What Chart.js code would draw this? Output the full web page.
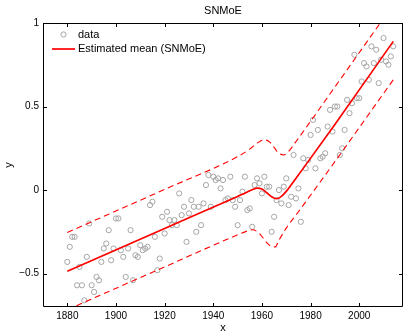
<!DOCTYPE html>
<html>
<head>
<meta charset="utf-8">
<title>SNMoE</title>
<script src="https://cdn.jsdelivr.net/npm/chart.js@4.4.1/dist/chart.umd.min.js"></script>
<style>
    html, body { margin: 0; padding: 0; background: #fff; }
    #wrap { width: 409px; height: 336px; }
</style>
</head>
<body>
<div id="wrap"><canvas id="snmoeChart" width="409" height="336"></canvas></div>
<script>
// Observations (year, value)
const years = [
    1880, 1881, 1882, 1883, 1884, 1885, 1886, 1887, 1888, 1889,
    1890, 1891, 1892, 1893, 1894, 1895, 1896, 1897, 1898, 1899,
    1900, 1901, 1902, 1903, 1904, 1905, 1906, 1907, 1908, 1909,
    1910, 1911, 1912, 1913, 1914, 1915, 1916, 1917, 1918, 1919,
    1920, 1921, 1922, 1923, 1924, 1925, 1926, 1927, 1928, 1929,
    1930, 1931, 1932, 1933, 1934, 1935, 1936, 1937, 1938, 1939,
    1940, 1941, 1942, 1943, 1944, 1945, 1946, 1947, 1948, 1949,
    1950, 1951, 1952, 1953, 1954, 1955, 1956, 1957, 1958, 1959,
    1960, 1961, 1962, 1963, 1964, 1965, 1966, 1967, 1968, 1969,
    1970, 1971, 1972, 1973, 1974, 1975, 1976, 1977, 1978, 1979,
    1980, 1981, 1982, 1983, 1984, 1985, 1986, 1987, 1988, 1989,
    1990, 1991, 1992, 1993, 1994, 1995, 1996, 1997, 1998, 1999,
    2000, 2001, 2002, 2003, 2004, 2005, 2006, 2007, 2008, 2009,
    2010, 2011, 2012, 2013, 2014
];
const observed = [
    -0.43, -0.34, -0.28, -0.28, -0.57, -0.46, -0.57, -0.66, -0.40, -0.20,
    -0.57, -0.61, -0.52, -0.54, -0.43, -0.35, -0.32, -0.24, -0.42, -0.35,
    -0.17, -0.17, -0.36, -0.40, -0.52, -0.35, -0.24, -0.54, -0.39, -0.40,
    -0.33, -0.36, -0.35, -0.34, -0.09, -0.07, -0.28, -0.48, -0.41, -0.16,
    -0.26, -0.13, -0.18, -0.21, -0.18, -0.21, -0.02, -0.15, -0.10, -0.31,
    -0.14, -0.06, -0.10, -0.25, -0.10, -0.21, -0.08, 0.03, 0.09, -0.10,
    0.08, 0.06, 0.07, 0.01, 0.06, -0.06, -0.05, 0.08, -0.06, -0.10,
    -0.21, -0.06, -0.01, 0.08, -0.12, -0.11, -0.22, 0.03, 0.07, 0.04,
    -0.02, 0.08, 0.02, 0.02, -0.25, -0.16, -0.06, 0.00, -0.08, 0.02,
    0.07, -0.09, -0.04, 0.21, -0.05, 0.01, -0.19, 0.19, 0.13, 0.18,
    0.33, 0.42, 0.13, 0.36, 0.19, 0.20, 0.22, 0.38, 0.48, 0.35,
    0.50, 0.50, 0.21, 0.25, 0.36, 0.54, 0.46, 0.52, 0.81, 0.55,
    0.55, 0.65, 0.76, 0.74, 0.66, 0.86, 0.76, 0.84, 0.64, 0.78,
    0.91, 0.77, 0.75, 0.80, 0.86
];

// Estimated mean and the dashed band
const meanYears = [1880, 1920, 1950, 1954, 1956, 1958, 1960, 1962, 1964, 1966, 1968, 1970, 1972, 1975, 1990, 2014];
const meanValues = [-0.486, -0.230, -0.038, -0.012, 0.002, 0.012, 0.006, -0.016, -0.040, -0.052, -0.038, -0.008, 0.030, 0.090, 0.393, 0.890];

const upperYears = [1880, 1920, 1950, 1955, 1958, 1961, 1963, 1965, 1967, 1969, 1971, 1974, 1990, 2014];
const upperValues = [-0.254, 0.004, 0.200, 0.245, 0.280, 0.300, 0.290, 0.255, 0.220, 0.210, 0.232, 0.290, 0.617, 1.110];

const lowerYears = [1880, 1920, 1950, 1954, 1956, 1958, 1960, 1962, 1964, 1965.5, 1967, 1970, 1975, 1990, 2014];
const lowerValues = [-0.716, -0.460, -0.268, -0.245, -0.238, -0.248, -0.278, -0.315, -0.338, -0.340, -0.300, -0.228, -0.130, 0.170, 0.660];

// Axes
const xTicks = [1880, 1900, 1920, 1940, 1960, 1980, 2000];
const yTicks = [-0.5, 0, 0.5, 1];
const yTickLabels = ['\u22120.5', '0', '0.5', '1'];

const RED = 'rgb(255,0,0)';
const GRAY = 'rgb(165,165,165)';
const FONT = '"Liberation Sans", Arial, Helvetica, sans-serif';

function pairs(xs, ys) {
    return xs.map((x, i) => ({ x: x, y: ys[i] }));
}

// Box, inward tick marks, title, axis labels and legend (MATLAB look)
const matlabFrame = {
    id: 'matlabFrame',
    afterDraw(chart) {
        const ctx = chart.ctx;
        const a = chart.chartArea;
        const sx = chart.scales.x;
        const sy = chart.scales.y;
        const tick = 4;

        ctx.save();
        ctx.strokeStyle = '#000';
        ctx.lineWidth = 1;
        ctx.beginPath();
        ctx.rect(a.left + 0.5, a.top + 0.5, a.right - a.left - 1, a.bottom - a.top - 1);
        xTicks.forEach(v => {
            const px = Math.round(sx.getPixelForValue(v)) + 0.5;
            ctx.moveTo(px, a.bottom);
            ctx.lineTo(px, a.bottom - tick);
            ctx.moveTo(px, a.top);
            ctx.lineTo(px, a.top + tick);
        });
        yTicks.forEach(v => {
            const py = Math.round(sy.getPixelForValue(v)) + 0.5;
            ctx.moveTo(a.left, py);
            ctx.lineTo(a.left + tick, py);
            ctx.moveTo(a.right, py);
            ctx.lineTo(a.right - tick, py);
        });
        ctx.stroke();

        // title and axis labels
        ctx.fillStyle = '#000';
        ctx.font = '11px ' + FONT;
        ctx.textAlign = 'center';
        ctx.textBaseline = 'middle';
        ctx.fillText('SNMoE', (a.left + a.right) / 2, 11);
        ctx.fillText('x', (a.left + a.right) / 2, 328);
        ctx.save();
        ctx.translate(9, (a.top + a.bottom) / 2);
        ctx.rotate(-Math.PI / 2);
        ctx.fillText('y', 0, 0);
        ctx.restore();

        // legend
        ctx.textAlign = 'left';
        ctx.strokeStyle = GRAY;
        ctx.beginPath();
        ctx.arc(63.5, 34.5, 2.6, 0, Math.PI * 2);
        ctx.stroke();
        ctx.fillText('data', 78, 35);
        ctx.strokeStyle = RED;
        ctx.lineWidth = 1.7;
        ctx.beginPath();
        ctx.moveTo(52, 49);
        ctx.lineTo(75, 49);
        ctx.stroke();
        ctx.fillText('Estimated mean (SNMoE)', 78, 49);
        ctx.restore();
    }
};

document.addEventListener('DOMContentLoaded', function() {
    Chart.defaults.font.family = FONT;
    Chart.defaults.color = '#000';

    const ctx = document.getElementById('snmoeChart').getContext('2d');
    new Chart(ctx, {
        type: 'scatter',
        data: {
            datasets: [
                {
                    type: 'line',
                    label: 'Estimated mean (SNMoE)',
                    data: pairs(meanYears, meanValues),
                    borderColor: RED,
                    borderWidth: 1.7,
                    pointRadius: 0,
                    cubicInterpolationMode: 'monotone',
                    fill: false,
                    clip: 0
                },
                {
                    type: 'line',
                    label: 'upper',
                    data: pairs(upperYears, upperValues),
                    borderColor: RED,
                    borderWidth: 1.1,
                    borderDash: [6, 4],
                    pointRadius: 0,
                    cubicInterpolationMode: 'monotone',
                    fill: false,
                    clip: 0
                },
                {
                    type: 'line',
                    label: 'lower',
                    data: pairs(lowerYears, lowerValues),
                    borderColor: RED,
                    borderWidth: 1.1,
                    borderDash: [6, 4],
                    pointRadius: 0,
                    cubicInterpolationMode: 'monotone',
                    fill: false,
                    clip: 0
                },
                {
                    label: 'data',
                    data: pairs(years, observed),
                    pointStyle: 'circle',
                    pointRadius: 2.6,
                    pointBorderWidth: 1,
                    pointBorderColor: GRAY,
                    pointBackgroundColor: 'rgba(0,0,0,0)',
                    borderColor: GRAY,
                    backgroundColor: 'rgba(0,0,0,0)'
                }
            ]
        },
        options: {
            responsive: false,
            devicePixelRatio: 1,
            animation: false,
            events: [],
            layout: {
                padding: { top: 23, right: 6, left: 0, bottom: 0 }
            },
            plugins: {
                legend: { display: false },
                title: { display: false },
                tooltip: { enabled: false }
            },
            scales: {
                x: {
                    type: 'linear',
                    min: 1870,
                    max: 2018,
                    afterBuildTicks: s => { s.ticks = xTicks.map(v => ({ value: v })); },
                    afterFit: s => { s.height = 29; },
                    grid: { display: false, drawTicks: false },
                    border: { display: false },
                    ticks: {
                        padding: 3,
                        maxRotation: 0,
                        autoSkip: false,
                        font: { size: 10 },
                        callback: v => String(v)
                    }
                },
                y: {
                    type: 'linear',
                    min: -0.7,
                    max: 1,
                    afterBuildTicks: s => { s.ticks = yTicks.map(v => ({ value: v })); },
                    afterFit: s => { s.width = 43; },
                    grid: { display: false, drawTicks: false },
                    border: { display: false },
                    ticks: {
                        padding: 4,
                        autoSkip: false,
                        font: { size: 10 },
                        callback: v => yTickLabels[yTicks.indexOf(v)]
                    }
                }
            }
        },
        plugins: [matlabFrame]
    });
});
</script>
</body>
</html>
